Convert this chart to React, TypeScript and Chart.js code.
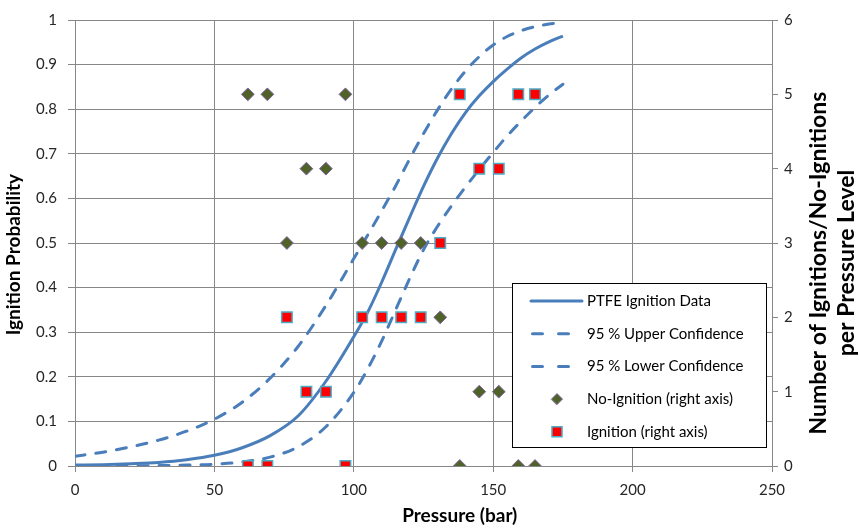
import React, { useEffect, useRef } from 'react';
import { Chart, registerables } from 'chart.js';

Chart.register(...registerables);

// ---- data ----
const pressureGrid = [0, 10, 20, 30, 40, 50, 60, 70, 80, 90, 100, 105, 110, 115, 120, 125, 130, 135, 140, 145, 150, 155, 160, 165, 170, 175];
const fitProbability = [0.002, 0.003, 0.005, 0.008, 0.014, 0.024, 0.041, 0.068, 0.112, 0.19, 0.29, 0.345, 0.412, 0.485, 0.557, 0.627, 0.69, 0.745, 0.792, 0.83, 0.862, 0.89, 0.915, 0.935, 0.951, 0.964];
const upperConfidence = [0.022, 0.031, 0.043, 0.058, 0.078, 0.105, 0.143, 0.197, 0.268, 0.36, 0.465, 0.518, 0.572, 0.628, 0.688, 0.745, 0.798, 0.845, 0.885, 0.918, 0.944, 0.963, 0.976, 0.985, 0.991, 0.994];
const lowerConfidence = [0, 0, 0, 0.001, 0.002, 0.004, 0.009, 0.02, 0.043, 0.088, 0.165, 0.218, 0.28, 0.35, 0.42, 0.485, 0.537, 0.583, 0.625, 0.665, 0.703, 0.74, 0.773, 0.804, 0.832, 0.856];

const pressureLevels = [62, 69, 76, 83, 90, 97, 103, 110, 117, 124, 131, 138, 145, 152, 159, 165];
const noIgnitionCounts = [5, 5, 3, 4, 4, 5, 3, 3, 3, 3, 2, 0, 1, 1, 0, 0];
const ignitionCounts = [0, 0, 2, 1, 1, 0, 2, 2, 2, 2, 3, 5, 4, 4, 5, 5];

const seriesLabels = [
  'PTFE Ignition Data',
  '95 % Upper Confidence',
  '95 % Lower Confidence',
  'No-Ignition (right axis)',
  'Ignition (right axis)',
];
const xTitle = 'Pressure (bar)';
const yTitle = 'Ignition Probability';
const y2Title = ['Number of Ignitions/No-Ignitions', 'per Pressure Level'];

// ---- styles ----
const FONT = 'Lato, "Open Sans", sans-serif';
const BLUE = '#4a7ebb';
const GRID = '#878787';
const TICK = '#262626';
const DIAMOND_FILL = '#4f6228';
const DIAMOND_EDGE = '#8064a2';
const SQUARE_FILL = '#ff0000';
const SQUARE_EDGE = '#4bacc6';

const toXY = (xs: number[], ys: number[]) => xs.map((x, i) => ({ x, y: ys[i] }));

function drawDiamond(ctx: CanvasRenderingContext2D, x: number, y: number, r: number) {
  ctx.beginPath();
  ctx.moveTo(x - r, y);
  ctx.lineTo(x, y - r);
  ctx.lineTo(x + r, y);
  ctx.lineTo(x, y + r);
  ctx.closePath();
  ctx.fillStyle = DIAMOND_FILL;
  ctx.fill();
  ctx.lineWidth = 1;
  ctx.strokeStyle = DIAMOND_EDGE;
  ctx.stroke();
}

function drawSquare(ctx: CanvasRenderingContext2D, x: number, y: number, half: number) {
  ctx.beginPath();
  ctx.rect(x - half, y - half, half * 2, half * 2);
  ctx.fillStyle = SQUARE_FILL;
  ctx.fill();
  ctx.lineWidth = 1.5;
  ctx.strokeStyle = SQUARE_EDGE;
  ctx.stroke();
}

const overlayPlugin = {
  id: 'overlay',
  afterDraw(chart: any) {
    const { ctx, chartArea: ca } = chart;
    const w = ca.right - ca.left;
    const h = ca.bottom - ca.top;
    ctx.save();

    // axis titles
    ctx.fillStyle = '#000';
    ctx.textAlign = 'center';
    ctx.textBaseline = 'middle';
    ctx.font = `bold 19px ${FONT}`;
    ctx.fillText(xTitle, ca.left + w * 0.552, ca.bottom + 50);

    ctx.save();
    ctx.translate(14, ca.top + h * 0.526);
    ctx.rotate(-Math.PI / 2);
    ctx.fillText(yTitle, 0, 0);
    ctx.restore();

    ctx.font = `bold 23px ${FONT}`;
    y2Title.forEach((line, i) => {
      ctx.save();
      ctx.translate(ca.right + 47 + i * 28, ca.top + h * 0.545);
      ctx.rotate(-Math.PI / 2);
      ctx.fillText(line, 0, 0);
      ctx.restore();
    });

    // legend box
    const bx = ca.right - 260;
    const by = ca.bottom - 183;
    const bw = 254;
    const bh = 164;
    ctx.fillStyle = '#fff';
    ctx.fillRect(bx, by, bw, bh);
    ctx.lineWidth = 1;
    ctx.strokeStyle = '#000';
    ctx.strokeRect(Math.round(bx) + 0.5, Math.round(by) + 0.5, bw, bh);

    const rowY = (i: number) => by + 18 + i * 32.7;
    const sx = bx + 19;
    const mx = bx + 45;
    // solid
    ctx.lineCap = 'round';
    ctx.strokeStyle = BLUE;
    ctx.lineWidth = 3;
    ctx.setLineDash([]);
    ctx.beginPath();
    ctx.moveTo(sx, rowY(0));
    ctx.lineTo(sx + 51, rowY(0));
    ctx.stroke();
    // dashed
    ctx.setLineDash([10, 16]);
    [1, 2].forEach((i) => {
      ctx.beginPath();
      ctx.moveTo(sx + 1.5, rowY(i));
      ctx.lineTo(sx + 38, rowY(i));
      ctx.stroke();
    });
    ctx.setLineDash([]);
    drawDiamond(ctx, mx, rowY(3), 5.5);
    drawSquare(ctx, mx, rowY(4), 5);

    ctx.fillStyle = '#000';
    ctx.textAlign = 'left';
    ctx.textBaseline = 'middle';
    ctx.font = `15px ${FONT}`;
    seriesLabels.forEach((t, i) => ctx.fillText(t, bx + 75, rowY(i)));

    ctx.restore();
  },
};

export default function App() {
  const ref = useRef<HTMLCanvasElement>(null);

  useEffect(() => {
    if (!ref.current) return;
    Chart.defaults.font.family = FONT;
    const lineBase = {
      showLine: true,
      pointRadius: 0,
      borderColor: BLUE,
      backgroundColor: BLUE,
      borderWidth: 3,
      cubicInterpolationMode: 'monotone' as const,
      fill: false,
      yAxisID: 'y',
      order: 2,
    };
    const chart = new Chart(ref.current, {
      type: 'scatter',
      data: {
        datasets: [
          { ...lineBase, label: seriesLabels[0], data: toXY(pressureGrid, fitProbability) },
          { ...lineBase, label: seriesLabels[1], data: toXY(pressureGrid, upperConfidence), borderDash: [10, 11], borderCapStyle: 'round' },
          { ...lineBase, label: seriesLabels[2], data: toXY(pressureGrid, lowerConfidence), borderDash: [10, 11], borderCapStyle: 'round' },
          {
            label: seriesLabels[3],
            data: toXY(pressureLevels, noIgnitionCounts),
            yAxisID: 'y2',
            showLine: false,
            pointStyle: 'rectRot',
            pointRadius: 6.4,
            backgroundColor: DIAMOND_FILL,
            borderColor: DIAMOND_EDGE,
            borderWidth: 1,
            order: 1,
          },
          {
            label: seriesLabels[4],
            data: toXY(pressureLevels, ignitionCounts),
            yAxisID: 'y2',
            showLine: false,
            pointStyle: 'rect',
            pointRadius: 7.4,
            backgroundColor: SQUARE_FILL,
            borderColor: SQUARE_EDGE,
            borderWidth: 1.5,
            order: 1,
          },
        ],
      },
      options: {
        responsive: false,
        animation: false,
        events: [],
        layout: { padding: { top: 13, left: 0, right: 0, bottom: 0 } },
        plugins: { legend: { display: false }, tooltip: { enabled: false } },
        scales: {
          x: {
            type: 'linear',
            position: 'bottom',
            min: 0,
            max: 250,
            ticks: { stepSize: 50, color: TICK, font: { size: 15 }, padding: 9, maxRotation: 0 },
            grid: { color: GRID, tickLength: 6, lineWidth: 1 },
            border: { color: GRID },
            afterFit: (s: any) => { s.height = 64; },
          },
          y: {
            type: 'linear',
            position: 'left',
            min: 0,
            max: 1,
            ticks: {
              stepSize: 0.1,
              color: TICK,
              font: { size: 15 },
              padding: 11,
              callback: (v: any) => String(Number(Number(v).toFixed(1))),
            },
            grid: { color: GRID, tickLength: 7, lineWidth: 1 },
            border: { color: GRID },
            afterFit: (s: any) => { s.width = 75; },
          },
          y2: {
            type: 'linear',
            position: 'right',
            min: 0,
            max: 6,
            ticks: { stepSize: 1, color: TICK, font: { size: 15 }, padding: 6 },
            grid: { drawOnChartArea: false, color: GRID, tickLength: 6 },
            border: { color: GRID },
            afterFit: (s: any) => { s.width = 87; },
          },
        },
      },
      plugins: [overlayPlugin],
    } as any);
    return () => chart.destroy();
  }, []);

  return (
    <div style={{ position: 'absolute', left: 0, top: 0, width: 859, height: 530, background: '#fff' }}>
      <canvas ref={ref} width={859} height={530} style={{ display: 'block' }} />
    </div>
  );
}
